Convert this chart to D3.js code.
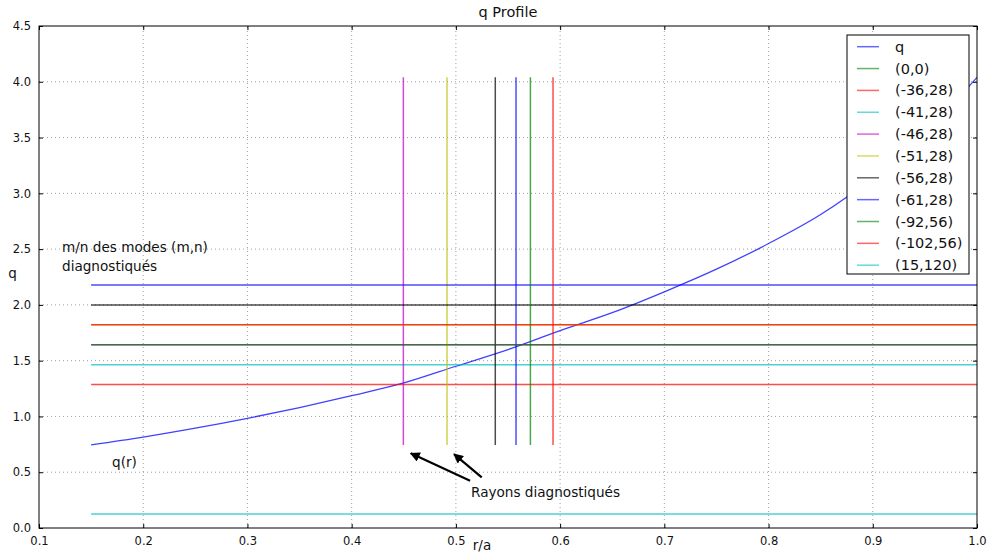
<!DOCTYPE html>
<html>
<head>
<meta charset="utf-8">
<script src="https://cdn.jsdelivr.net/npm/d3@7"></script>
<style>
body{margin:0;background:#fff;}
text{font-family:"DejaVu Sans",sans-serif;fill:#111;}
</style>
</head>
<body>
<svg id="chart" width="987" height="554"></svg>
<script>
// q profile
const rVals=[0.15,0.2,0.25,0.3,0.35,0.4,0.45,0.5,0.55,0.6,0.65,0.7,0.75,0.8,0.85,0.9,0.95,1.0];
const qVals=[0.745,0.815,0.895,0.983,1.08,1.186,1.30,1.45,1.60,1.77,1.93,2.117,2.32,2.55,2.81,3.14,3.54,4.04];

// modes (m,n) and the diagnosed radius of each (null = none drawn)
const modeLabels=['(0,0)','(-36,28)','(-41,28)','(-46,28)','(-51,28)','(-56,28)','(-61,28)','(-92,56)','(-102,56)','(15,120)'];
const modeM=[0,-36,-41,-46,-51,-56,-61,-92,-102,15];
const modeN=[0,28,28,28,28,28,28,56,56,120];
const modeRadius=[null,null,null,0.4496,0.4915,0.5378,0.5577,0.5715,0.5932,null];

const xTicks=[0.1,0.2,0.3,0.4,0.5,0.6,0.7,0.8,0.9,1.0];
const yTicks=[0,0.5,1,1.5,2,2.5,3,3.5,4,4.5];

// matplotlib colour cycle b g r c m y k
const cycle=['#0000ff','#008000','#ff0000','#00bfbf','#bf00bf','#bfbf00','#000000'];

const W=987,H=554;
const m={left:39,right:10,top:26,bottom:26};
const svg=d3.select('#chart');

const x=d3.scaleLinear().domain([0.1,1.0]).range([m.left,W-m.right]);
const y=d3.scaleLinear().domain([0,4.5]).range([H-m.bottom,m.top]);

// grid
const grid=svg.append('g').attr('stroke','#777').attr('stroke-width',0.7).attr('stroke-dasharray','1,3');
grid.selectAll('line.gx').data(xTicks.slice(1,-1)).join('line')
.attr('x1',d=>x(d)).attr('x2',d=>x(d)).attr('y1',y(0)).attr('y2',y(4.5));
grid.selectAll('line.gy').data(yTicks.slice(1,-1)).join('line')
.attr('y1',d=>y(d)).attr('y2',d=>y(d)).attr('x1',x(0.1)).attr('x2',x(1.0));

const clip=svg.append('clipPath').attr('id','clip').append('rect')
.attr('x',m.left).attr('y',m.top).attr('width',W-m.left-m.right).attr('height',H-m.top-m.bottom);
const plot=svg.append('g').attr('clip-path','url(#clip)');

// q curve
const qLine=d3.line().x((d,i)=>x(rVals[i])).y(d=>y(d)).curve(d3.curveMonotoneX);
plot.append('path').datum(qVals).attr('d',qLine)
.attr('fill','none').attr('stroke',cycle[0]).attr('stroke-opacity',0.75).attr('stroke-width',1.3);

const qMin=d3.min(qVals),qMax=d3.max(qVals);

modeLabels.forEach((lab,i)=>{
  const col=cycle[(i+1)%cycle.length];
  if(modeN[i]!==0){
    const lvl=Math.abs(modeM[i])/modeN[i];
    plot.append('line').attr('x1',x(0.15)).attr('x2',x(1.0)).attr('y1',y(lvl)).attr('y2',y(lvl))
    .attr('stroke',col).attr('stroke-opacity',0.7).attr('stroke-width',1.5);
  }
  if(modeRadius[i]!==null){
    plot.append('line').attr('x1',x(modeRadius[i])).attr('x2',x(modeRadius[i])).attr('y1',y(qMin)).attr('y2',y(qMax))
    .attr('stroke',col).attr('stroke-opacity',0.7).attr('stroke-width',1.5);
  }
});

// axes, matplotlib style ticks pointing in
const xAxis=d3.axisBottom(x).tickValues(xTicks).tickFormat(d3.format('.1f')).tickSizeInner(-4).tickSizeOuter(0).tickPadding(9);
const yAxis=d3.axisLeft(y).tickValues(yTicks).tickFormat(d3.format('.1f')).tickSizeInner(-4).tickSizeOuter(0).tickPadding(8);
const xAxisTop=d3.axisTop(x).tickValues(xTicks).tickFormat('').tickSizeInner(-4).tickSizeOuter(0);
const yAxisRight=d3.axisRight(y).tickValues(yTicks).tickFormat('').tickSizeInner(-4).tickSizeOuter(0);

function styleAx(g){
  g.select('.domain').remove();
  g.selectAll('line').attr('stroke','#000');
  g.selectAll('text').attr('font-size',11.5).attr('fill','#222').attr('font-family','DejaVu Sans');
}
svg.append('g').attr('transform',`translate(0,${H-m.bottom})`).call(xAxis).call(styleAx);
svg.append('g').attr('transform',`translate(${m.left},0)`).call(yAxis).call(styleAx);
svg.append('g').attr('transform',`translate(0,${m.top})`).call(xAxisTop).call(styleAx);
svg.append('g').attr('transform',`translate(${W-m.right},0)`).call(yAxisRight).call(styleAx);

svg.append('rect').attr('x',m.left).attr('y',m.top).attr('width',W-m.left-m.right).attr('height',H-m.top-m.bottom)
.attr('fill','none').attr('stroke','#000').attr('stroke-width',1);

// titles
svg.append('text').attr('x',(m.left+W-m.right)/2).attr('y',17).attr('text-anchor','middle').attr('font-size',14.5).text('q Profile');
svg.append('text').attr('x',482).attr('y',550).attr('text-anchor','middle').attr('font-size',13.5).text('r/a');
svg.append('text').attr('x',12.5).attr('y',278).attr('text-anchor','middle').attr('font-size',13.5).text('q');

// annotations
svg.append('text').attr('x',62).attr('y',252).attr('font-size',13.6).text('m/n des modes (m,n)');
svg.append('text').attr('x',62).attr('y',271).attr('font-size',13.6).text('diagnostiqués');
svg.append('text').attr('x',112).attr('y',467).attr('font-size',13.6).text('q(r)');
svg.append('text').attr('x',471).attr('y',497).attr('font-size',13.6).text('Rayons diagnostiqués');

svg.append('defs').append('marker').attr('id','arr').attr('viewBox','0 0 10 10')
.attr('refX',9).attr('refY',5).attr('markerWidth',4.5).attr('markerHeight',4.5).attr('orient','auto')
.append('path').attr('d','M0,0L10,5L0,10z').attr('fill','#000');
// [tail r, tail q, head r, head q]
const arrows=[[0.5136,0.424,0.4567,0.669],[0.5248,0.454,0.4982,0.663]];
arrows.forEach(a=>{
  svg.append('line').attr('x1',x(a[0])).attr('y1',y(a[1])).attr('x2',x(a[2])).attr('y2',y(a[3]))
  .attr('stroke','#000').attr('stroke-width',2.2).attr('marker-end','url(#arr)');
});

// legend
const leg=svg.append('g').attr('transform','translate(847,35)');
leg.append('rect').attr('width',122).attr('height',239).attr('fill','#fff').attr('stroke','#000');
const legItems=['q'].concat(modeLabels);
legItems.forEach((lab,i)=>{
  const yy=11.7+i*21.85;
  leg.append('line').attr('x1',10).attr('x2',32).attr('y1',yy).attr('y2',yy)
  .attr('stroke',cycle[i%cycle.length]).attr('stroke-opacity',0.6).attr('stroke-width',1.5);
  leg.append('text').attr('x',48).attr('y',yy+5).attr('font-size',14.5).text(lab);
});
</script>
</body>
</html>
